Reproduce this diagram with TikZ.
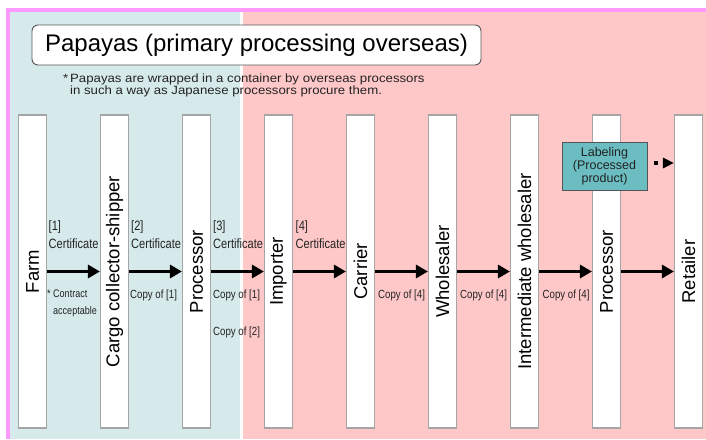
\documentclass[tikz,border=0pt]{standalone}
\usepackage{fontspec}
\setmainfont{Liberation Sans}
\newfontfamily\narrowfont[FakeStretch=0.82]{Liberation Sans}
\newfontfamily\widefont[FakeStretch=1.1]{Liberation Sans}
\usetikzlibrary{arrows.meta}
\definecolor{borderpink}{RGB}{255,153,255}
\definecolor{overseasblue}{RGB}{214,234,236}
\definecolor{domesticpink}{RGB}{255,200,200}
\definecolor{bargray}{RGB}{165,165,165}
\definecolor{labelteal}{RGB}{107,189,194}
\definecolor{darkgray}{RGB}{85,85,85}
\definecolor{textgray}{RGB}{35,35,35}

\begin{document}
\begin{tikzpicture}[x=1pt, y=-1pt]
    % Define styles
    \tikzstyle{actor} = [rectangle, rotate=90, minimum width=313pt, minimum height=28pt, inner sep=0pt, draw=bargray, line width=1.1pt, fill=white, font=\fontsize{18.5}{22}\selectfont]
    \tikzstyle{flow} = [line width=3pt, -{Triangle[length=12pt,width=13pt]}]
    \tikzstyle{cert} = [anchor=west, inner sep=0pt, align=left, text=textgray, font=\narrowfont\fontsize{13.5}{18.5}\selectfont]
    \tikzstyle{copy} = [anchor=west, inner sep=0pt, text=textgray, font=\narrowfont\fontsize{11.8}{13}\selectfont]
    \useasboundingbox (0,0) rectangle (706,439);

    % Background areas
    \fill[overseasblue] (10,12) rectangle (240,439);
    \fill[domesticpink] (243,12) rectangle (706,439);
    \fill[borderpink] (6,8) rectangle (706,12);
    \fill[borderpink] (6,8) rectangle (10,439);

    % Title and note
    \node [rectangle, rounded corners=6pt, minimum width=449pt, minimum height=40pt, draw=darkgray, line width=0.9pt, fill=white, font=\fontsize{24}{28}\selectfont] (title) at (256.5,45) {Papayas (primary processing overseas)};
    \node [anchor=west, inner sep=0pt, align=left, text=textgray, font=\widefont\fontsize{12}{11.5}\selectfont] (note) at (70,85.5) {\llap{*\,}Papayas are wrapped in a container by overseas processors\\in such a way as Japanese processors procure them.};

    % Actors in the chain
    \node [actor] (farm) at (32.5,271.5) {Farm};
    \node [actor] (collector) at (114.5,271.5) {Cargo collector-shipper};
    \node [actor] (processor_os) at (196.5,271.5) {Processor};
    \node [actor] (importer) at (278.5,271.5) {Importer};
    \node [actor] (carrier) at (360.5,271.5) {Carrier};
    \node [actor] (wholesaler) at (442.5,271.5) {Wholesaler};
    \node [actor] (intermediate) at (524.5,271.5) {Intermediate wholesaler};
    \node [actor] (processor_jp) at (606.5,271.5) {Processor};
    \node [actor] (retailer) at (688.5,271.5) {Retailer};

    % Labeling box
    \node [rectangle, minimum width=85pt, minimum height=48pt, inner sep=0pt, align=center, draw=darkgray, line width=0.9pt, fill=labelteal, text=textgray, font=\fontsize{12.5}{13}\selectfont] (labeling) at (604.5,166) {Labeling\\(Processed\\product)};

    % Product flow
    \draw [flow] (farm) -- (collector);
    \draw [flow] (collector) -- (processor_os);
    \draw [flow] (processor_os) -- (importer);
    \draw [flow] (importer) -- (carrier);
    \draw [flow] (carrier) -- (wholesaler);
    \draw [flow] (wholesaler) -- (intermediate);
    \draw [flow] (intermediate) -- (processor_jp);
    \draw [flow] (processor_jp) -- (retailer);

    \coordinate (labeling_out) at ([xshift=7pt,yshift=3pt]labeling.east);
    \draw [line width=4pt, dash pattern=on 4pt off 10pt, -{Triangle[length=11pt,width=10pt]}] (labeling_out) -- (labeling_out -| retailer.north);

    % Certificates
    \node [cert] (cert1) at (48.5,234.5) {[1]\\Certificate};
    \node [cert] (cert2) at (131,234.5) {[2]\\Certificate};
    \node [cert] (cert3) at (213,234.5) {[3]\\Certificate};
    \node [cert] (cert4) at (295.5,234.5) {[4]\\Certificate};

    % Copies
    \node [anchor=west, inner sep=0pt, align=left, text=textgray, font=\narrowfont\fontsize{11}{17}\selectfont] (contract) at (47,303.5) {* Contract\\\hspace*{6pt}acceptable};
    \node [copy] (copy1a) at (130,295) {Copy of [1]};
    \node [copy] (copy1b) at (213,295) {Copy of [1]};
    \node [copy] (copy2) at (213,332) {Copy of [2]};
    \node [copy] (copy4a) at (378,295) {Copy of [4]};
    \node [copy] (copy4b) at (460,295) {Copy of [4]};
    \node [copy] (copy4c) at (542.5,295) {Copy of [4]};
\end{tikzpicture}
\end{document}
